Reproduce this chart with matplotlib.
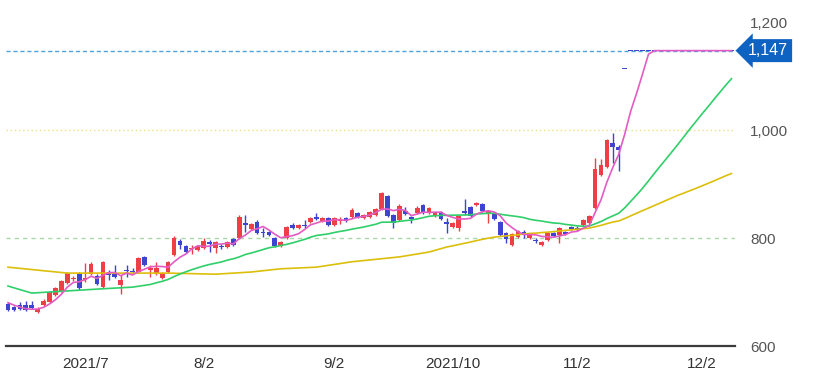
import matplotlib
matplotlib.use('Agg')
import matplotlib.pyplot as plt
import numpy as np
import pandas as pd

plt.rcParams['font.family'] = ['Liberation Sans', 'DejaVu Sans']

# daily prices, one row per trading day (mid June 2021 -> 2021/12/9)
opens = [678, 672, 676, 676, 676, 663, 676, 681, 694, 702, 717, 724, 733, 722, 733, 730, 710, 735, 735, 713,
         741, 739, 737, 765, 741, 735, 726, 737, 769, 794, 785, 780, 778, 781, 792, 781, 785, 783, 798, 800,
         827, 817, 830, 811, 811, 800, 785, 800, 824, 818, 825, 830, 838, 831, 837, 824, 832, 837, 839, 846,
         837, 839, 843, 854, 878, 843, 833, 850, 839, 846, 861, 846, 841, 848, 829, 820, 818, 850, 857, 861,
         863, 846, 846, 830, 809, 787, 802, 811, 800, 797, 787, 796, 809, 806, 811, 820, 818, 824, 828, 856,
         917, 932, 976, 969, 1113] + [1147] * 18
highs = [681, 674, 681, 683, 683, 672, 687, 702, 709, 722, 737, 730, 737, 754, 756, 733, 758, 741, 750, 731,
         750, 744, 765, 767, 750, 756, 737, 758, 804, 798, 787, 787, 787, 800, 796, 795, 789, 795, 800, 843,
         843, 828, 833, 818, 813, 802, 795, 822, 828, 826, 833, 839, 846, 839, 839, 839, 838, 839, 856, 848,
         845, 850, 856, 885, 880, 845, 863, 857, 841, 860, 863, 858, 848, 850, 837, 830, 843, 872, 859, 867,
         865, 852, 848, 832, 811, 809, 815, 815, 808, 800, 795, 811, 811, 820, 813, 822, 822, 835, 843, 948,
         946, 983, 994, 972, 1113] + [1147] * 18
lows = [665, 665, 667, 665, 668, 661, 674, 679, 692, 700, 715, 720, 704, 718, 731, 713, 708, 722, 726, 696,
        728, 735, 735, 748, 728, 731, 724, 735, 767, 780, 772, 770, 776, 779, 774, 772, 780, 781, 785, 798,
        811, 815, 807, 802, 804, 783, 783, 798, 816, 816, 818, 828, 833, 829, 822, 822, 826, 829, 837, 837,
        835, 837, 841, 852, 839, 818, 831, 842, 828, 844, 844, 844, 839, 833, 809, 818, 813, 843, 839, 859,
        848, 828, 833, 804, 791, 785, 800, 800, 798, 791, 785, 794, 802, 791, 805, 815, 813, 822, 826, 854,
        915, 930, 939, 924, 1113] + [1147] * 18
closes = [667, 667, 669, 667, 670, 669, 683, 700, 707, 720, 735, 726, 707, 726, 752, 715, 755, 731, 728, 722,
          739, 737, 763, 750, 744, 744, 735, 756, 800, 787, 774, 782, 785, 794, 789, 793, 783, 793, 787, 839,
          824, 826, 809, 809, 806, 785, 793, 820, 818, 824, 823, 837, 836, 837, 824, 837, 834, 831, 852, 839,
          843, 848, 854, 883, 841, 828, 859, 844, 835, 856, 846, 856, 846, 835, 826, 828, 841, 846, 841, 865,
          850, 850, 835, 806, 798, 807, 813, 808, 806, 795, 793, 809, 804, 818, 807, 817, 816, 833, 841, 928,
          935, 981, 969, 963, 1113] + [1147] * 18

# closes before the first shown day (only feed the 5-day average)
prev_closes = [690, 686, 682, 676]

ma25_early_idx = [0, 4, 10, 16, 21]
ma25_early = [711, 698, 702, 706, 709]
ma75_early_idx = [0, 10, 17, 27, 35, 41, 46, 52, 58, 66, 71]
ma75_early = [746, 735, 735, 735, 733, 737, 743, 746, 756, 765, 774]

tick_days = [13, 33, 55, 75, 96, 117]
tick_labels = ['2021/7', '8/2', '9/2', '2021/10', '11/2', '12/2']
last_price = 1147

n = len(closes)
x = np.arange(n)
O = np.array(opens, float)
H = np.array(highs, float)
L = np.array(lows, float)
C = np.array(closes, float)

ma5 = pd.Series(prev_closes + closes).rolling(5).mean().to_numpy()[len(prev_closes):]
c = pd.Series(closes, dtype=float)
ma25 = c.rolling(25).mean().to_numpy()
ma75 = c.rolling(75).mean().to_numpy()
x25 = ma25_early_idx + list(range(24, n))
y25 = ma25_early + list(ma25[24:])
x75 = ma75_early_idx + list(range(74, n))
y75 = ma75_early + list(ma75[74:])

fig = plt.figure(figsize=(8.15, 3.87), dpi=100)
ax = fig.add_axes([6 / 815, 41 / 387, 729 / 815, 341 / 387])

# grid
ax.axhline(800, color='#a9d9a9', lw=1, ls=(0, (3, 3)), zorder=0)
ax.axhline(1000, color='#eedf80', lw=1, ls=(0, (1, 2)), zorder=0)

# candles
red, blue = '#ee3f46', '#3d45d0'
cols = [red if cc > oo else blue for oo, cc in zip(O, C)]
ax.vlines(x, L, H, colors=cols, lw=1, zorder=2)
body = np.maximum(np.abs(C - O), 1.8)
ax.bar(x, body, bottom=np.minimum(O, C), width=0.8, color=cols, lw=0, zorder=3)

# moving averages
ax.plot(x75, y75, color='#dcbf0a', lw=1.2, zorder=4)
ax.plot(x25, y25, color='#2fcf6a', lw=1.2, zorder=4)
ax.plot(x, ma5, color='#e45bc4', lw=1.2, zorder=5)

# last price line + tag
ax.axhline(last_price, color='#4fa3dc', lw=1, ls=(0, (3, 2)), zorder=1)
ax.text(1.018, last_price, f'{last_price:,}', transform=ax.get_yaxis_transform(),
        ha='left', va='center', color='white', fontsize=11.5,
        bbox=dict(boxstyle='larrow,pad=0.25', fc='#0d62c2', ec='none'))

ax.set_xlim(-0.34, 122.6)
ax.set_ylim(600, 1231.5)

ax.yaxis.tick_right()
ax.set_yticks([600, 800, 1000, 1200])
ax.set_yticklabels([f'{v:,}' for v in [600, 800, 1000, 1200]])
ax.set_xticks(tick_days)
ax.set_xticklabels(tick_labels)
ax.tick_params(axis='y', length=0, pad=11, labelsize=11, labelcolor='#555555')
ax.tick_params(axis='x', length=0, pad=8, labelsize=11, labelcolor='#333333')

for s in ['top', 'left', 'right']:
    ax.spines[s].set_visible(False)
ax.spines['bottom'].set_color('#3c3c3c')
ax.spines['bottom'].set_linewidth(1.6)

fig.savefig('out.png', dpi=100)
